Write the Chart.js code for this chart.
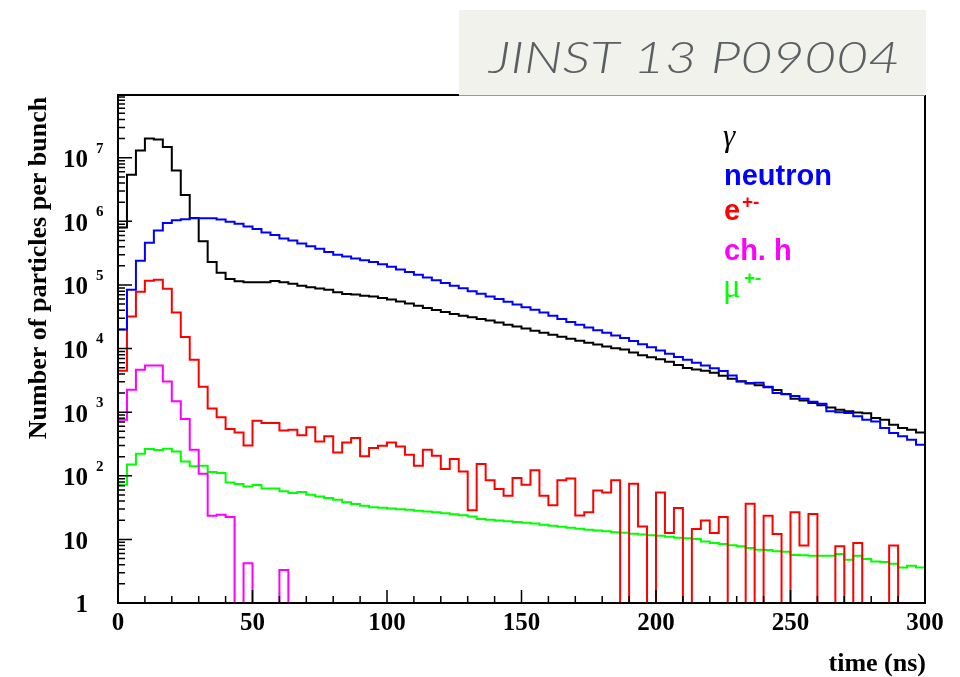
<!DOCTYPE html>
<html><head><meta charset="utf-8">
<script src="https://cdn.jsdelivr.net/npm/chart.js@4.4.1/dist/chart.umd.min.js"></script>
<style>html,body{margin:0;padding:0;background:#fff;}#wrap{position:relative;width:960px;height:677px;}</style>
</head><body><div id="wrap"><canvas id="c" width="960" height="677"></canvas></div>
<script>
// ---------- data (90 bins of 10/3 ns from 0 to 300 ns) ----------
const binWidth = 10 / 3;
const gammaCounts = [8e5,5.4e6,1.3e7,2.0e7,1.93e7,1.48e7,6.3e6,2.6e6,1.13e6,4.85e5,
 2.3e5,1.55e5,1.24e5,1.14e5,1.10e5,1.10e5,1.10e5,1.15e5,1.10e5,1.05e5,
 9.7e4,9.2e4,8.8e4,8.4e4,7.7e4,7.2e4,7.1e4,6.8e4,6.6e4,6.25e4,
 5.9e4,5.5e4,5.1e4,4.7e4,4.33e4,4.03e4,3.75e4,3.49e4,3.28e4,3.1e4,
 2.93e4,2.77e4,2.57e4,2.38e4,2.22e4,2.06e4,1.91e4,1.78e4,1.65e4,1.53e4,
 1.43e4,1.33e4,1.24e4,1.16e4,1.08e4,1.01e4,9.65e3,8.65e3,7.85e3,7.3e3,
 6.8e3,6.2e3,5.5e3,4.93e3,4.7e3,4.5e3,4.16e3,3.73e3,3.36e3,3.06e3,
 2.82e3,2.65e3,2.46e3,2.24e3,1.93e3,1.63e3,1.52e3,1.40e3,1.29e3,1.19e3,
 1.09e3,1.03e3,990,960,811,762,635,565,531,481];
const neutronCounts = [2.0e4,8.4e4,2.4e5,4.6e5,7.2e5,9.4e5,1.04e6,1.08e6,1.12e6,1.12e6,
 1.12e6,1.07e6,9.9e5,9.2e5,8.3e5,7.6e5,6.7e5,6.1e5,5.4e5,5.0e5,
 4.5e5,4.05e5,3.7e5,3.3e5,3.0e5,2.8e5,2.6e5,2.45e5,2.3e5,2.12e5,
 1.93e5,1.75e5,1.60e5,1.45e5,1.31e5,1.19e5,1.07e5,9.75e4,8.85e4,8.0e4,
 7.3e4,6.6e4,6.0e4,5.46e4,4.93e4,4.48e4,4.06e4,3.68e4,3.28e4,2.93e4,
 2.61e4,2.36e4,2.14e4,1.95e4,1.77e4,1.61e4,1.47e4,1.31e4,1.17e4,1.05e4,
 9.3e3,8.3e3,7.4e3,6.7e3,6.0e3,5.4e3,4.9e3,4.45e3,3.76e3,3.05e3,
 2.88e3,2.9e3,2.5e3,2.0e3,1.92e3,1.79e3,1.63e3,1.46e3,1.36e3,1.03e3,
 1.0e3,970,860,760,716,565,471,417,370,308];
const electronCounts = [4.5e3,3.2e4,7.8e4,1.17e5,1.21e5,8.75e4,3.7e4,1.52e4,6.7e3,2.5e3,
 1.14e3,830,545,481,300,735,676,676,517,530,
 432,577,347,417,233,335,393,202,274,297,
 335,290,215,144,257,207,128,184,117,28.6,
 153,85,62,48.6,92,72.4,122,48.6,34.3,85,
 91,23.8,26.6,58.9,54.8,85,0,75,16,0,
 54.8,12.6,31.2,0,14.6,19.9,12.6,22.5,0,0,
 36.4,0,23.6,12.2,0,26.6,8.0,25.1,0,0,
 7.8,0,8.8,0,0,0,8.05,0,0,0];
const hadronCounts = [762,2.26e3,4.66e3,5.4e3,5.4e3,3.05e3,1.48e3,782,257,108,
 23.6,24.5,22.5,0,4.2,0,0,0,3.3,0,
 0,0,0,0,0,0,0,0,0,0, 0,0,0,0,0,0,0,0,0,0,
 0,0,0,0,0,0,0,0,0,0, 0,0,0,0,0,0,0,0,0,0,
 0,0,0,0,0,0,0,0,0,0, 0,0,0,0,0,0,0,0,0,0,
 0,0,0,0,0,0,0,0,0,0];
const muonCounts = [72.5,150,223,264,254,267,242,168,141,144,
 115,111,78.7,74.3,68.1,71.6,63.4,63.4,56.9,53.7,
 55.5,50.5,47.4,44.8,42.1,38.2,36.0,33.9,32.1,31.5,
 30.6,29.8,29.3,28.3,27.5,26.8,25.8,24.9,24.0,23.0,
 20.9,20.4,19.8,19.3,18.8,18.3,17.7,17.0,16.4,15.8,
 15.3,14.7,14.2,13.8,13.4,13.0,12.7,12.3,11.9,11.6,
 11.4,11.0,10.6,10.4,10.1,9.3,8.8,8.5,8.1,7.8,
 7.3,6.9,6.8,6.5,6.4,5.7,5.65,5.55,5.55,5.55,
 5.9,4.8,5.55,4.9,4.5,4.4,4.15,3.63,3.86,3.63];

const seriesNames = ['γ', 'neutron', 'e', 'ch. h', 'μ'];
const yMajorTicks = [1, 10, 100, 1e3, 1e4, 1e5, 1e6, 1e7];
const yTickBase = ['1', '10', '10', '10', '10', '10', '10', '10'];
const yTickExp = ['', '', '2', '3', '4', '5', '6', '7'];
const xMajorTicks = [0, 50, 100, 150, 200, 250, 300];
const xTickLabels = ['0', '50', '100', '150', '200', '250', '300'];
const xMinorStep = 10;
const X_MIN = 0, X_MAX = 300, Y_MIN = 1, Y_MAX = 9.7e7;
const xTitle = 'time (ns)';
const yTitle = 'Number of particles per bunch';
const stampText = 'JINST 13 P09004';

// ---------- build step-histogram points ----------
function histPoints(counts) {
  const pts = [{x: X_MIN, y: Y_MIN}];
  counts.forEach((c, k) => pts.push({x: X_MIN + k * binWidth, y: c > 0 ? c : Y_MIN}));
  const last = counts[counts.length - 1];
  const xEnd = X_MIN + counts.length * binWidth;
  pts.push({x: xEnd, y: last > 0 ? last : Y_MIN});
  pts.push({x: xEnd, y: Y_MIN});
  return pts;
}
function ds(label, counts, color) {
  return {label, data: histPoints(counts), borderColor: color, backgroundColor: color,
    borderWidth: 2, stepped: true, pointRadius: 0, fill: false, tension: 0,
    borderJoinStyle: 'miter', borderCapStyle: 'butt'};
}

const SERIF = '"Liberation Serif","Times New Roman",serif';
const SANS = '"Liberation Sans",Arial,Helvetica,sans-serif';

const rootDecor = {
  id: 'rootDecor',
  afterDatasetsDraw(chart) {
    const {ctx, chartArea: a, scales: {x, y}} = chart;
    ctx.save();
    // frame
    ctx.strokeStyle = '#000';
    ctx.lineWidth = 2;
    ctx.strokeRect(a.left, a.top, a.right - a.left, a.bottom - a.top);
    // ticks
    ctx.lineWidth = 1.5;
    ctx.beginPath();
    for (let d = 0; d < 8; d++) {
      for (let m = 2; m <= 9; m++) {
        const v = m * Math.pow(10, d);
        if (v > Y_MAX) continue;
        const py = y.getPixelForValue(v);
        ctx.moveTo(a.left, py); ctx.lineTo(a.left + 7, py);
      }
    }
    yMajorTicks.forEach(v => { const py = y.getPixelForValue(v); ctx.moveTo(a.left, py); ctx.lineTo(a.left + 14, py); });
    for (let v = X_MIN; v <= X_MAX; v += xMinorStep) {
      const px = x.getPixelForValue(v);
      const len = xMajorTicks.includes(v) ? 13 : 7;
      ctx.moveTo(px, a.bottom); ctx.lineTo(px, a.bottom - len);
    }
    ctx.stroke();
    // y labels
    ctx.fillStyle = '#000';
    yMajorTicks.forEach((v, i) => {
      const py = y.getPixelForValue(v);
      ctx.font = 'bold 25px ' + SERIF;
      ctx.textAlign = 'right'; ctx.textBaseline = 'middle';
      ctx.fillText(yTickBase[i], a.left - 30, py + 3);
      if (yTickExp[i]) {
        ctx.font = 'bold 15px ' + SERIF;
        ctx.textAlign = 'left';
        ctx.fillText(yTickExp[i], a.left - 22, py - 9);
      }
    });
    // x labels
    ctx.font = 'bold 25px ' + SERIF;
    ctx.textAlign = 'center'; ctx.textBaseline = 'alphabetic';
    xMajorTicks.forEach((v, i) => ctx.fillText(xTickLabels[i], x.getPixelForValue(v), a.bottom + 27));
    // axis titles
    ctx.font = 'bold 26px ' + SERIF;
    ctx.textAlign = 'right';
    ctx.fillText(xTitle, a.right + 1, a.bottom + 68);
    ctx.save();
    ctx.translate(46, 268);
    ctx.rotate(-Math.PI / 2);
    ctx.textAlign = 'center';
    ctx.fillText(yTitle, 0, 0);
    ctx.restore();
    // legend (text only, as in the original)
    const lx = 724;
    ctx.textAlign = 'left'; ctx.textBaseline = 'alphabetic';
    ctx.fillStyle = '#000'; ctx.font = 'italic 31px ' + SERIF;
    ctx.fillText(seriesNames[0], lx - 1, 146);
    ctx.fillStyle = '#0000ff'; ctx.font = 'bold 29px ' + SANS;
    ctx.fillText(seriesNames[1], lx, 185);
    ctx.fillStyle = '#ff0000'; ctx.font = 'bold 29px ' + SANS;
    ctx.fillText(seriesNames[2], lx, 220);
    ctx.font = 'bold 19px ' + SANS; ctx.fillText('+-', lx + 18, 208);
    ctx.fillStyle = '#00ff00'; ctx.font = '33px ' + SERIF;
    ctx.fillText(seriesNames[4], lx - 1, 297);
    ctx.font = 'bold 19px ' + SANS; ctx.fillText('+-', lx + 20, 284);
    ctx.fillStyle = '#ff00ff'; ctx.font = 'bold 29px ' + SANS;
    ctx.fillText(seriesNames[3], lx, 260);
    // stamp box
    ctx.fillStyle = '#f0f2eb';
    ctx.fillRect(459, 10, 467, 85);
    ctx.strokeStyle = '#9a9a9a'; ctx.lineWidth = 1;
    ctx.beginPath(); ctx.moveTo(459, 95.5); ctx.lineTo(925, 95.5); ctx.stroke();
    ctx.fillStyle = '#5a5f64';
    ctx.font = 'italic 300 44px Lato,Roboto,' + SANS;
    const w = ctx.measureText(stampText).width;
    ctx.save();
    ctx.translate(489, 73);
    ctx.scale(411 / w, 1);
    ctx.textAlign = 'left';
    ctx.fillText(stampText, 0, 0);
    ctx.restore();
    ctx.restore();
  }
};

new Chart(document.getElementById('c'), {
  type: 'line',
  data: {
    datasets: [
      ds('neutron', neutronCounts, '#0000ff'),
      ds('e+-', electronCounts, '#ff0000'),
      ds('ch. h', hadronCounts, '#ff00ff'),
      ds('mu+-', muonCounts, '#00ff00'),
      ds('gamma', gammaCounts, '#000000')
    ]
  },
  options: {
    responsive: false, animation: false, devicePixelRatio: 1,
    layout: {padding: {left: 118, right: 35, top: 95, bottom: 74}},
    plugins: {legend: {display: false}, tooltip: {enabled: false}},
    scales: {
      x: {type: 'linear', min: X_MIN, max: X_MAX, display: false},
      y: {type: 'logarithmic', min: Y_MIN, max: Y_MAX, display: false}
    }
  },
  plugins: [rootDecor]
});
</script></body></html>
